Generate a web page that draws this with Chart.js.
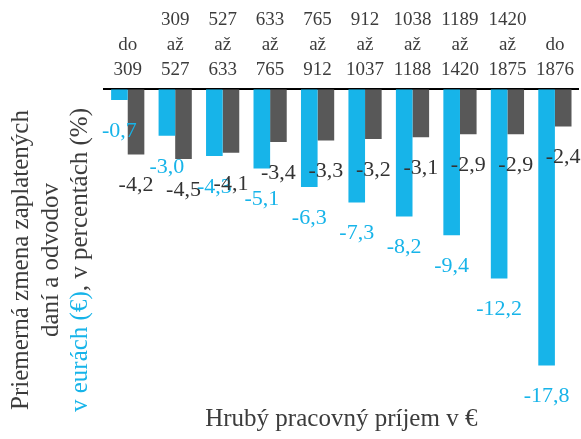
<!DOCTYPE html>
<html>
<head>
<meta charset="utf-8">
<script src="https://cdn.jsdelivr.net/npm/chart.js@4.4.1/dist/chart.umd.min.js"></script>
<style>
  html, body { margin: 0; padding: 0; background: #fff; }
  #wrap { width: 581px; height: 439px; }
</style>
</head>
<body>
<div id="wrap"><canvas id="chart"></canvas></div>
<script>
// income bands (labels sit on the top axis, bottom aligned)
const categories = [
  ['do', '309'],
  ['309', 'až', '527'],
  ['527', 'až', '633'],
  ['633', 'až', '765'],
  ['765', 'až', '912'],
  ['912', 'až', '1037'],
  ['1038', 'až', '1188'],
  ['1189', 'až', '1420'],
  ['1420', 'až', '1875'],
  ['do', '1876'],
];
const changeEur = [-0.7, -3.0, -4.3, -5.1, -6.3, -7.3, -8.2, -9.4, -12.2, -17.8];
const changePct = [-4.2, -4.5, -4.1, -3.4, -3.3, -3.2, -3.1, -2.9, -2.9, -2.4];

const BLUE = '#17b4e9';
const GREY = '#585858';
const TEXT = '#3c3c3c';
const FONT = '"Liberation Serif", "Times New Roman", serif';

// value labels under each bar end, comma decimals
const barLabels = {
  id: 'barLabels',
  afterDatasetsDraw(chart) {
    const ctx = chart.ctx;
    ctx.save();
    ctx.font = '22px ' + FONT;
    ctx.textAlign = 'center';
    ctx.textBaseline = 'middle';
    chart.data.datasets.forEach((ds, i) => {
      const meta = chart.getDatasetMeta(i);
      ctx.fillStyle = ds.labelColor;
      meta.data.forEach((bar, j) => {
        const txt = ds.data[j].toFixed(1).replace('.', ',');
        ctx.fillText(txt, bar.x, bar.y + 31);
      });
    });
    ctx.restore();
  }
};

// rotated y title, last line has two colours
const yTitle = {
  id: 'yTitle',
  afterDraw(chart) {
    const ctx = chart.ctx;
    const cy = 260;
    ctx.save();
    ctx.font = '25px ' + FONT;
    ctx.textBaseline = 'alphabetic';
    const line = (x, parts) => {
      const total = parts.reduce((s, p) => s + ctx.measureText(p[0]).width, 0);
      ctx.save();
      ctx.translate(x, cy);
      ctx.rotate(-Math.PI / 2);
      ctx.textAlign = 'left';
      let pos = -total / 2;
      parts.forEach(p => {
        ctx.fillStyle = p[1];
        ctx.fillText(p[0], pos, 0);
        pos += ctx.measureText(p[0]).width;
      });
      ctx.restore();
    };
    line(28, [['Priemerná zmena zaplatených', TEXT]]);
    line(58, [['daní a odvodov', TEXT]]);
    line(87, [['v eurách (€)', BLUE], [', v percentách (%)', TEXT]]);
    ctx.restore();
  }
};

new Chart(document.getElementById('chart'), {
  type: 'bar',
  data: {
    labels: categories,
    datasets: [
      { label: 'v eurách (€)', data: changeEur, backgroundColor: BLUE, labelColor: BLUE },
      { label: 'v percentách (%)', data: changePct, backgroundColor: GREY, labelColor: '#333333' },
    ],
  },
  options: {
    responsive: true,
    maintainAspectRatio: false,
    animation: false,
    events: [],
    layout: { padding: { left: 104, right: 2, top: 0, bottom: 2 } },
    datasets: { bar: { categoryPercentage: 0.7, barPercentage: 1.0 } },
    plugins: {
      legend: { display: false },
      tooltip: { enabled: false },
    },
    scales: {
      x: {
        position: 'top',
        grid: { display: false, drawTicks: false },
        border: { display: true, color: '#000', width: 2 },
        ticks: {
          color: TEXT,
          padding: 7,
          maxRotation: 0,
          autoSkip: false,
          font: { family: FONT, size: 19, lineHeight: 1.32 },
        },
      },
      x2: {
        position: 'bottom',
        grid: { display: false, drawTicks: false },
        border: { display: false },
        ticks: { display: false },
        title: {
          display: true,
          text: 'Hrubý pracovný príjem v €',
          color: TEXT,
          padding: { top: 4, bottom: 4 },
          font: { family: FONT, size: 25, lineHeight: 1.05 },
        },
      },
      y: {
        display: false,
        min: -20.2,
        max: 0,
      },
    },
  },
  plugins: [barLabels, yTitle],
});
</script>
</body>
</html>
